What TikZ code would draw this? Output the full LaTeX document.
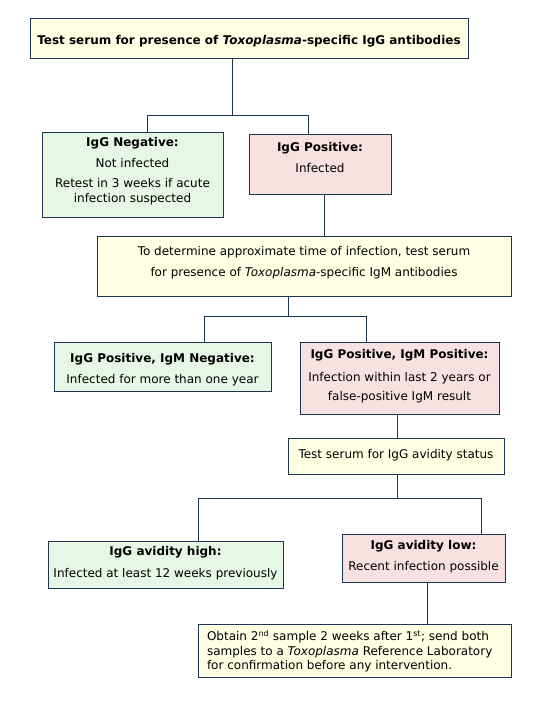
\documentclass[tikz,border=0pt]{standalone}
\usepackage{fontspec}
\setmainfont{DejaVu Sans}
\definecolor{edge}{HTML}{1C3550}
\definecolor{ylw}{HTML}{FFFFE4}
\definecolor{grn}{HTML}{E6F7E6}
\definecolor{pnk}{HTML}{F7E1E1}
\newcommand{\bxc}[4]{\parbox[c][#1][t]{#2}{\centering\vspace*{#3}#4\par}}
\newcommand{\bxl}[5]{\parbox[c][#1][t]{#2}{\raggedright\leftskip=#4\vspace*{#3}#5\par}}
\tikzset{
  box/.style={draw=edge, line width=1pt, inner sep=0pt, outer sep=0pt, anchor=north west,
    font=\fontsize{12}{15}\selectfont},
  wire/.style={draw=edge, line width=1pt},
}
\begin{document}
\begin{tikzpicture}[x=1pt,y=-1pt]
\useasboundingbox (0,0) rectangle (540,720);
\fill[white] (0,0) rectangle (540,720);

\node[box, fill=ylw] (top) at (30,18)
  {\bxc{40pt}{438pt}{17.4pt}{\bfseries Test serum for presence of \textit{Toxoplasma}-specific IgG antibodies}};
\node[box, fill=grn] (neg) at (42,132)
  {\bxc{85pt}{181pt}{5.4pt}{\textbf{IgG Negative:}\\[6pt] Not infected\\[5pt] Retest in 3 weeks if acute\\ infection suspected}};
\node[box, fill=pnk] (pos) at (249,134)
  {\bxc{60pt}{142pt}{8.4pt}{\textbf{IgG Positive:}\\[6pt] Infected}};
\node[box, fill=ylw] (igm) at (97,236)
  {\bxc{60pt}{414pt}{10.4pt}{To determine approximate time of infection, test serum\\[6pt] for presence of \textit{Toxoplasma}-specific IgM antibodies}};
\node[box, fill=grn] (posneg) at (54,342)
  {\bxc{49pt}{217pt}{11.4pt}{\textbf{IgG Positive, IgM Negative:}\\[6pt] Infected for more than one year}};
\node[box, fill=pnk] (pospos) at (300,342)
  {\bxc{72pt}{199pt}{7.4pt}{\textbf{IgG Positive, IgM Positive:}\\[8pt] Infection within last 2 years or\\[4pt] false-positive IgM result}};
\node[box, fill=ylw] (avid) at (288,438)
  {\bxc{36pt}{216pt}{11.4pt}{Test serum for IgG avidity status}};
\node[box, fill=grn] (high) at (48,541)
  {\bxc{47pt}{235pt}{5.4pt}{\textbf{IgG avidity high:}\\[7pt] Infected at least 12 weeks previously}};
\node[box, fill=pnk] (low) at (342,534)
  {\bxc{48pt}{163pt}{6.4pt}{\textbf{IgG avidity low:}\\[6pt] Recent infection possible}};
\node[box, fill=ylw] (final) at (198,624)
  {\bxl{53pt}{313pt}{6.4pt}{9pt}{\fontsize{12}{14.5}\selectfont Obtain 2\textsuperscript{nd} sample 2 weeks after 1\textsuperscript{st}; send both\\ samples to a \textit{Toxoplasma} Reference Laboratory\\ for confirmation before any intervention.}};

\coordinate (j1) at (232,115);
\coordinate (j1l) at (147,115);
\coordinate (j1r) at (308,115);
\draw[wire] (top.south -| j1) -- (j1);
\draw[wire] (neg.north -| j1l) |- (j1r) -- (pos.north -| j1r);

\coordinate (c2) at (324,0);
\draw[wire] (pos.south -| c2) -- (igm.north -| c2);

\coordinate (j2) at (288,316);
\coordinate (j2l) at (204,316);
\coordinate (j2r) at (366,316);
\draw[wire] (igm.south -| j2) -- (j2);
\draw[wire] (posneg.north -| j2l) |- (j2r) -- (pospos.north -| j2r);

\coordinate (c3) at (397,0);
\draw[wire] (pospos.south -| c3) -- (avid.north -| c3);

\coordinate (j3) at (397,498);
\coordinate (j3l) at (198,498);
\coordinate (j3r) at (481,498);
\draw[wire] (avid.south -| j3) -- (j3);
\draw[wire] (high.north -| j3l) |- (j3r) -- (low.north -| j3r);

\coordinate (c4) at (427,0);
\draw[wire] (low.south -| c4) -- (final.north -| c4);
\end{tikzpicture}
\end{document}
